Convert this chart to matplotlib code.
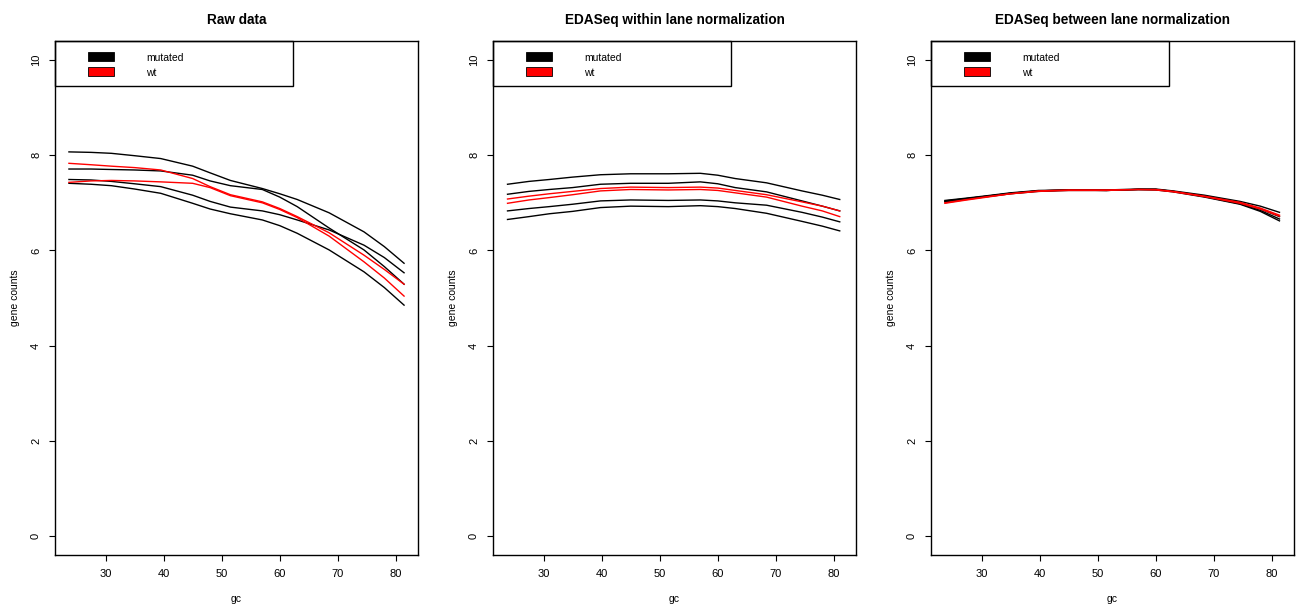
import matplotlib
matplotlib.use('Agg')
import matplotlib.pyplot as plt
from matplotlib.patches import Rectangle

plt.rcParams['font.family'] = ['Liberation Sans', 'DejaVu Sans']

# lowess fits of gene counts vs gc content, one line per lane
gc_raw = [23.7, 27.5, 31, 35, 39.5, 45, 48, 51.5, 57, 60, 63, 68.5, 74.5, 78, 81.4]
raw_mut = [
    [8.07, 8.06, 8.04, 7.99, 7.93, 7.77, 7.63, 7.47, 7.30, 7.19, 7.07, 6.79, 6.39, 6.08, 5.73],
    [7.71, 7.71, 7.70, 7.69, 7.67, 7.58, 7.46, 7.36, 7.28, 7.12, 6.92, 6.47, 6.01, 5.66, 5.29],
    [7.49, 7.48, 7.45, 7.40, 7.34, 7.16, 7.03, 6.91, 6.83, 6.75, 6.64, 6.43, 6.11, 5.85, 5.53],
    [7.41, 7.39, 7.36, 7.29, 7.20, 6.99, 6.87, 6.77, 6.64, 6.52, 6.36, 6.01, 5.55, 5.22, 4.85],
]
raw_wt = [
    [7.83, 7.80, 7.77, 7.74, 7.69, 7.51, 7.34, 7.17, 7.02, 6.88, 6.71, 6.37, 5.90, 5.60, 5.29],
    [7.43, 7.46, 7.47, 7.46, 7.44, 7.41, 7.32, 7.15, 7.00, 6.86, 6.69, 6.30, 5.76, 5.42, 5.04],
]

gc_within = [23.8, 27.5, 31, 35, 39.8, 45, 51.5, 57, 60, 63, 68.4, 74.5, 78, 81]
within_mut = [
    [7.39, 7.45, 7.49, 7.54, 7.59, 7.61, 7.61, 7.62, 7.58, 7.51, 7.42, 7.25, 7.16, 7.07],
    [7.18, 7.24, 7.28, 7.32, 7.39, 7.41, 7.41, 7.44, 7.40, 7.32, 7.23, 7.04, 6.93, 6.83],
    [6.83, 6.88, 6.92, 6.97, 7.04, 7.06, 7.05, 7.06, 7.04, 7.00, 6.95, 6.80, 6.70, 6.60],
    [6.65, 6.71, 6.77, 6.82, 6.90, 6.93, 6.92, 6.94, 6.92, 6.88, 6.78, 6.61, 6.51, 6.41],
]
within_wt = [
    [7.08, 7.14, 7.19, 7.24, 7.30, 7.33, 7.32, 7.33, 7.31, 7.26, 7.17, 7.02, 6.93, 6.83],
    [6.99, 7.06, 7.11, 7.17, 7.25, 7.28, 7.27, 7.28, 7.26, 7.21, 7.12, 6.93, 6.83, 6.71],
]

gc_between = [23.7, 27.5, 31, 35, 39.8, 45, 51.5, 57, 60, 63, 68.4, 74.5, 78, 81.3]
between_mut = [
    [7.05, 7.10, 7.15, 7.21, 7.26, 7.27, 7.27, 7.29, 7.29, 7.25, 7.16, 7.03, 6.93, 6.80],
    [7.04, 7.09, 7.14, 7.20, 7.25, 7.27, 7.26, 7.28, 7.28, 7.24, 7.14, 7.00, 6.87, 6.71],
    [7.03, 7.09, 7.14, 7.20, 7.25, 7.27, 7.26, 7.28, 7.28, 7.24, 7.13, 6.98, 6.84, 6.66],
    [7.02, 7.08, 7.13, 7.19, 7.24, 7.26, 7.26, 7.28, 7.27, 7.23, 7.12, 6.97, 6.82, 6.62],
]
between_wt = [
    [7.00, 7.07, 7.13, 7.19, 7.25, 7.27, 7.27, 7.28, 7.28, 7.24, 7.14, 7.01, 6.89, 6.74],
    [6.99, 7.06, 7.12, 7.19, 7.24, 7.26, 7.26, 7.28, 7.27, 7.23, 7.13, 6.99, 6.87, 6.72],
]

titles = ['Raw data', 'EDASeq within lane normalization', 'EDASeq between lane normalization']
groups = ['mutated', 'wt']
group_cols = ['black', 'red']
xticks = [30, 40, 50, 60, 70, 80]
yticks = [0, 2, 4, 6, 8, 10]

panels = [
    (gc_raw, raw_mut, raw_wt),
    (gc_within, within_mut, within_wt),
    (gc_between, between_mut, between_wt),
]

fig = plt.figure(figsize=(12.99, 6.06), dpi=100)
lefts = [55 / 1299, 493 / 1299, 931 / 1299]
w = 363 / 1299
b = 51 / 606
h = 514 / 606

for left, title, (gc, mut, wt) in zip(lefts, titles, panels):
    ax = fig.add_axes([left, b, w, h])
    for ys in mut:
        ax.plot(gc, ys, color=group_cols[0], lw=1.0)
    for ys in wt:
        ax.plot(gc, ys, color=group_cols[1], lw=1.0)

    # R-style 4% padding around the data range
    ax.set_xlim(21.3, 83.8)
    ax.set_ylim(-0.4, 10.4)
    ax.set_xticks(xticks)
    ax.set_yticks(yticks)
    ax.tick_params(direction='out', length=4, width=0.8, labelsize=8, pad=6)
    for lab in ax.get_yticklabels():
        lab.set_rotation(90)
        lab.set_va('center')
    for sp in ax.spines.values():
        sp.set_linewidth(1.0)

    ax.set_title(title, fontsize=9.8, fontweight='bold', pad=12)
    ax.set_xlabel('gc', fontsize=7.5, labelpad=11)
    ax.set_ylabel('gene counts', fontsize=7.5, labelpad=8)

    # legend drawn R-style in the top-left corner
    ax.add_patch(Rectangle((0, 1 - 0.0875), 0.656, 0.0875, transform=ax.transAxes,
                           fill=False, edgecolor='black', lw=1.0, clip_on=False))
    for i, (name, col) in enumerate(zip(groups, group_cols)):
        y0 = 0.961 - i * 0.029
        ax.add_patch(Rectangle((0.091, y0), 0.0715, 0.0176, transform=ax.transAxes,
                               facecolor=col, edgecolor='black', lw=0.6))
        ax.text(0.2507, y0 + 0.0060, name, transform=ax.transAxes,
                fontsize=7.5, va='center', ha='left')

fig.savefig('out.png', dpi=100)
